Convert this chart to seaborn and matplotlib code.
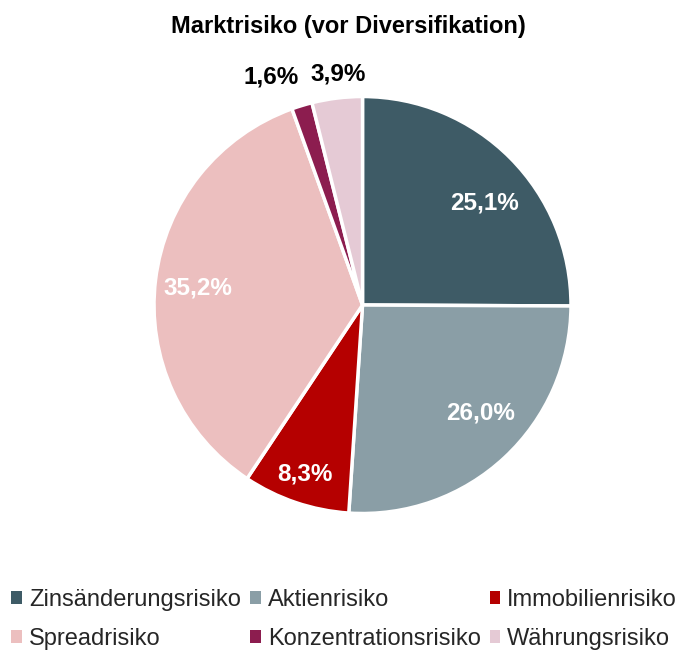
import numpy as np
import matplotlib
matplotlib.use("Agg")
import matplotlib.pyplot as plt
import seaborn as sns
from matplotlib.patches import Patch

sns.set_theme(style="white")
plt.rcParams['font.family'] = ['Liberation Sans', 'DejaVu Sans']

categories = ["Zinsänderungsrisiko", "Aktienrisiko", "Immobilienrisiko",
              "Spreadrisiko", "Konzentrationsrisiko", "Währungsrisiko"]
values = [25.1, 26.0, 8.3, 35.2, 1.6, 3.9]
labels = ["25,1%", "26,0%", "8,3%", "35,2%", "1,6%", "3,9%"]
colors = ["#3e5b66", "#8a9ea6", "#b50000", "#ecbfbf", "#8c1d4f", "#e5cad5"]
label_colors = ["white", "white", "white", "white", "black", "black"]
label_dist = [0.763, 0.767, 0.854, 0.796, 1.18, 1.112]
label_angle_offset = [-4.8, 4.6, 0.0, 1.0, 5.0, -0.9]

fig = plt.figure(figsize=(6.8, 6.52), dpi=100)
ax = fig.add_axes([0.2265, 0.2124, 0.6132, 0.6396])
wedges, _ = ax.pie(values, colors=colors, startangle=90, counterclock=False,
                   wedgeprops=dict(edgecolor="white", linewidth=2.5))
ax.set_xlim(-1, 1)
ax.set_ylim(-1, 1)
ax.set_aspect("equal")

for w, lab, c, d, off in zip(wedges, labels, label_colors, label_dist, label_angle_offset):
    ang = np.deg2rad((w.theta1 + w.theta2) / 2 + off)
    ax.text(d * np.cos(ang), d * np.sin(ang), lab, ha="center", va="center",
            fontsize=17.5, fontweight="bold", color=c)

fig.text(0.512, 0.960, "Marktrisiko (vor Diversifikation)", ha="center", va="center",
         fontsize=17, fontweight="bold", color="black")

order = [0, 3, 1, 4, 2, 5]
handles = [Patch(facecolor=colors[i], edgecolor="none", label=categories[i]) for i in order]
fig.legend(handles=handles, ncol=3, loc="lower left", bbox_to_anchor=(-0.004, -0.018),
           frameon=False, fontsize=17, handlelength=0.45, handleheight=0.45,
           handletextpad=0.3, columnspacing=0.38, labelspacing=0.7, borderaxespad=0.2)

fig.savefig("out.png", dpi=100, facecolor="white")
